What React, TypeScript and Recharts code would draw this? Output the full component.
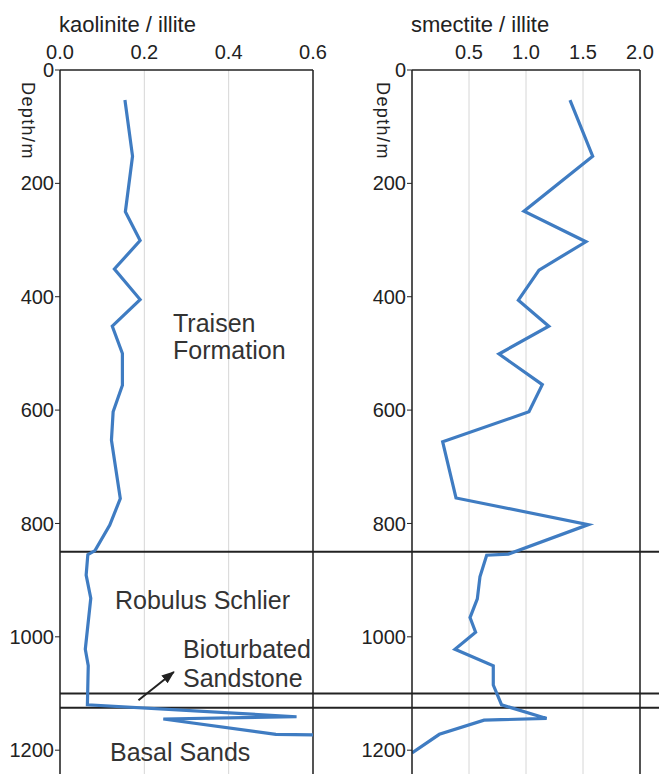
import React from 'react';
import { LineChart, Line, XAxis, YAxis, CartesianGrid, ReferenceLine } from 'recharts';

const kaoliniteDepth = [53, 152, 250, 301, 351, 405, 452, 500, 556, 603, 653, 756, 803, 848, 855, 891, 932, 1022, 1051, 1120, 1141, 1145, 1172, 1173];
const kaoliniteRatio = [0.154, 0.172, 0.155, 0.19, 0.129, 0.19, 0.124, 0.148, 0.148, 0.126, 0.122, 0.143, 0.118, 0.083, 0.066, 0.062, 0.073, 0.06, 0.067, 0.065, 0.561, 0.245, 0.512, 0.6];

const smectiteDepth = [53, 152, 249, 303, 353, 406, 452, 501, 555, 603, 656, 755, 802, 854, 856, 894, 933, 966, 992, 1022, 1051, 1085, 1120, 1144, 1147, 1172, 1205];
const smectiteRatio = [1.386, 1.585, 0.982, 1.526, 1.114, 0.933, 1.2, 0.763, 1.143, 1.026, 0.269, 0.386, 1.547, 0.845, 0.655, 0.596, 0.573, 0.509, 0.558, 0.377, 0.713, 0.713, 0.786, 1.181, 0.632, 0.24, 0.0];

const depthTicks = [0, 200, 400, 600, 800, 1000, 1200];
const kaoliniteTicks = [0, 0.2, 0.4, 0.6];
const smectiteTicks = [0.5, 1.0, 1.5, 2.0];
const boundaryDepths = [850, 1100, 1125];

const kaoliniteData = kaoliniteDepth.map((d, i) => ({ depth: d, ratio: kaoliniteRatio[i] }));
const smectiteData = smectiteDepth.map((d, i) => ({ depth: d, ratio: smectiteRatio[i] }));

const FONT = '"Liberation Sans", Arial, Helvetica, sans-serif';
const INK = '#222';
const BLUE = '#3f7cc2';
const GRID = '#d6d6d6';

function txt(left: number, baseline: number, fs: number, extra: React.CSSProperties = {}): React.CSSProperties {
  return {
    position: 'absolute',
    left,
    top: baseline - 0.8465 * fs,
    fontSize: fs,
    lineHeight: `${fs}px`,
    fontFamily: FONT,
    color: INK,
    whiteSpace: 'nowrap',
    ...extra,
  };
}

function vtxt(left: number, top: number, fs: number): React.CSSProperties {
  return {
    position: 'absolute',
    left: left + 0.8465 * fs,
    top,
    fontSize: fs,
    lineHeight: `${fs}px`,
    fontFamily: FONT,
    color: INK,
    whiteSpace: 'nowrap',
    letterSpacing: 1.4,
    transform: 'rotate(90deg)',
    transformOrigin: '0 0',
  };
}

const tickStyle = { fontSize: 20, fill: INK, fontFamily: FONT };
const fmt = (v: number) => v.toFixed(1);

export default function App() {
  return (
    <div style={{ position: 'absolute', left: 0, top: 0, width: 659, height: 774, overflow: 'hidden', background: '#fff' }}>
      <svg width={0} height={0} style={{ position: 'absolute' }}>
        <defs>
          <marker id="arrowHead" markerUnits="userSpaceOnUse" markerWidth={14} markerHeight={12} refX={12} refY={5} orient="auto">
            <path d="M0,0 L13,5 L0,10 z" fill={INK} />
          </marker>
        </defs>
      </svg>

      <LineChart
        layout="vertical"
        width={330}
        height={774}
        data={kaoliniteData}
        margin={{ top: 40, right: 17, bottom: 0, left: 10 }}
        style={{ position: 'absolute', left: 0, top: 0 }}
      >
        <CartesianGrid horizontal={false} stroke={GRID} />
        <XAxis
          type="number"
          orientation="top"
          domain={[0, 0.6]}
          ticks={kaoliniteTicks}
          interval={0}
          height={30}
          tickSize={4}
          tickMargin={7}
          tickLine={false}
          axisLine={{ stroke: INK, strokeWidth: 1.5 }}
          tick={tickStyle}
          tickFormatter={fmt}
          allowDataOverflow
        />
        <YAxis
          type="number"
          dataKey="depth"
          domain={[0, 1242]}
          ticks={depthTicks}
          interval={0}
          width={50}
          tickSize={5}
          tickMargin={1}
          tickLine={{ stroke: INK }}
          axisLine={{ stroke: INK, strokeWidth: 1.5 }}
          tick={tickStyle}
          allowDataOverflow
        />
        <ReferenceLine x={0.6} stroke={INK} strokeWidth={1.5} />
        {boundaryDepths.map((b) => (
          <ReferenceLine key={b} y={b} stroke={INK} strokeWidth={2} />
        ))}
        <ReferenceLine
          segment={[{ x: 0.186, y: 1112 }, { x: 0.27, y: 1062 }]}
          stroke={INK}
          strokeWidth={2}
          ifOverflow="visible"
          markerEnd="url(#arrowHead)"
        />
        <Line
          type="linear"
          dataKey="ratio"
          stroke={BLUE}
          strokeWidth={3.2}
          dot={false}
          isAnimationActive={false}
        />
      </LineChart>

      <LineChart
        layout="vertical"
        width={359}
        height={774}
        data={smectiteData}
        margin={{ top: 40, right: 19, bottom: 0, left: 62 }}
        style={{ position: 'absolute', left: 300, top: 0 }}
      >
        <CartesianGrid horizontal={false} stroke={GRID} />
        <XAxis
          type="number"
          orientation="top"
          domain={[0, 2]}
          ticks={smectiteTicks}
          interval={0}
          height={30}
          tickSize={4}
          tickMargin={7}
          tickLine={false}
          axisLine={{ stroke: INK, strokeWidth: 1.5 }}
          tick={tickStyle}
          tickFormatter={fmt}
          allowDataOverflow
        />
        <YAxis
          type="number"
          dataKey="depth"
          domain={[0, 1242]}
          ticks={depthTicks}
          interval={0}
          width={50}
          tickSize={5}
          tickMargin={1}
          tickLine={{ stroke: INK }}
          axisLine={{ stroke: INK, strokeWidth: 1.5 }}
          tick={tickStyle}
          allowDataOverflow
        />
        <ReferenceLine x={2} stroke={INK} strokeWidth={1.5} />
        {boundaryDepths.map((b) => (
          <ReferenceLine
            key={b}
            segment={[{ x: -0.87, y: b }, { x: 2.17, y: b }]}
            stroke={INK}
            strokeWidth={2}
            ifOverflow="visible"
          />
        ))}
        <Line
          type="linear"
          dataKey="ratio"
          stroke={BLUE}
          strokeWidth={3.2}
          dot={false}
          isAnimationActive={false}
        />
      </LineChart>

      <div style={txt(59, 33, 22)}>kaolinite / illite</div>
      <div style={txt(411, 33, 22)}>smectite / illite</div>
      <div style={vtxt(22, 82, 18)}>Depth/m</div>
      <div style={vtxt(377, 82, 18)}>Depth/m</div>

      <div style={txt(173, 331.7, 25, { color: '#333' })}>Traisen</div>
      <div style={txt(173, 359.3, 25, { color: '#333' })}>Formation</div>
      <div style={txt(115, 609.3, 25, { color: '#333' })}>Robulus Schlier</div>
      <div style={txt(183, 658, 25, { color: '#333' })}>Bioturbated</div>
      <div style={txt(183, 686.7, 25, { color: '#333' })}>Sandstone</div>
      <div style={txt(110, 760.7, 25, { color: '#333' })}>Basal Sands</div>
    </div>
  );
}
